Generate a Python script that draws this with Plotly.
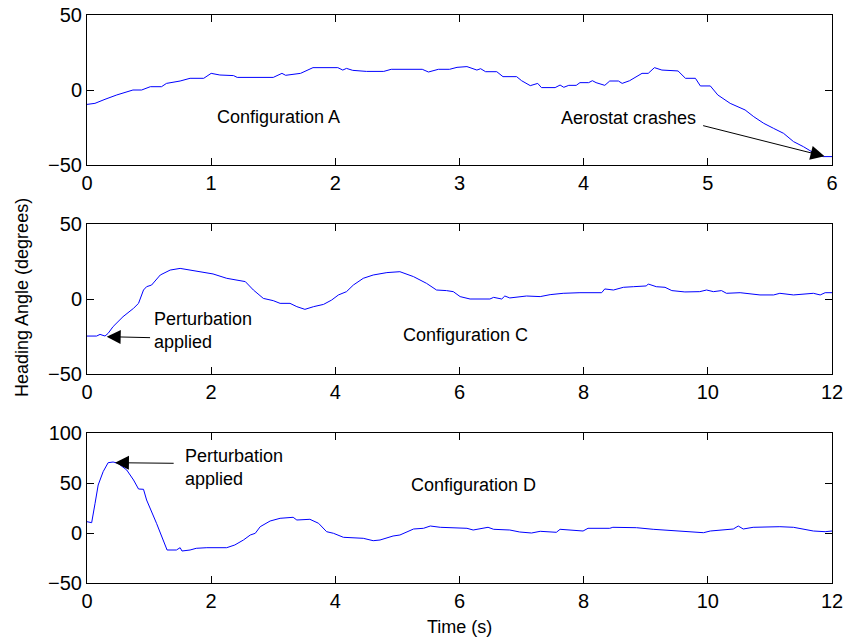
import plotly.graph_objects as go

# ---------------- data ----------------
tA = [0, 0.064, 0.145, 0.24, 0.37, 0.44, 0.51, 0.6, 0.64, 0.75, 0.83, 0.94, 1.0, 1.07, 1.18, 1.21,
      1.5, 1.57, 1.6, 1.72, 1.82, 2.02, 2.06, 2.09, 2.14, 2.25, 2.39, 2.45, 2.7, 2.75, 2.83, 2.92,
      2.98, 3.06, 3.14, 3.17, 3.21, 3.3, 3.35, 3.46, 3.5, 3.57, 3.63, 3.66, 3.77, 3.81, 3.84, 3.88,
      3.94, 3.97, 4.04, 4.07, 4.1, 4.17, 4.21, 4.28, 4.31, 4.37, 4.47, 4.52, 4.57, 4.63, 4.76, 4.82,
      4.9, 4.94, 5.02, 5.08, 5.18, 5.26, 5.3, 5.37, 5.45, 5.53, 5.61, 5.69, 5.77, 5.85, 5.93, 6.0]
yA = [-9.6, -8.9, -6.2, -3.3, 0, 0, 2.2, 2.2, 4.4, 6, 7.8, 7.8, 11.1, 10, 9.6, 8.4,
      8.4, 11.1, 9.8, 11.1, 14.9, 14.9, 13.3, 14.4, 13.1, 12.4, 12.4, 13.8, 13.8, 12, 13.8, 13.8,
      15.1, 15.6, 13.3, 14.2, 12.2, 12.2, 8.9, 8.9, 6.2, 2.9, 4.4, 1.6, 1.6, 3.3, 1.8, 3.1,
      3.1, 4.9, 4.9, 6.2, 4.9, 3.1, 6, 6, 4.4, 6.2, 11.1, 11.1, 14.9, 13.3, 12.7, 7.8,
      7.8, 2.7, 2.7, -3.3, -8.9, -12.2, -13.3, -17.8, -22.2, -25.6, -28.9, -34.4, -37.8, -41.8, -44.4, -44.4]

tC = [0, 0.155, 0.21, 0.29, 0.34, 0.42, 0.58, 0.75, 0.83, 0.91, 0.96, 1.04, 1.18, 1.34, 1.5, 1.66,
      1.87, 2.03, 2.25, 2.46, 2.55, 2.68, 2.84, 3.0, 3.11, 3.27, 3.38, 3.51, 3.65, 3.81, 3.94, 4.05,
      4.18, 4.29, 4.45, 4.61, 4.83, 5.04, 5.26, 5.47, 5.63, 5.79, 5.9, 6.01, 6.17, 6.49, 6.55, 6.68,
      6.73, 6.81, 7.08, 7.3, 7.46, 7.67, 7.94, 8.29, 8.34, 8.48, 8.64, 8.8, 9.01, 9.04, 9.17, 9.31,
      9.42, 9.63, 9.87, 9.98, 10.09, 10.22, 10.3, 10.52, 10.79, 10.84, 11.06, 11.16, 11.38, 11.54,
      11.7, 11.81, 11.89, 12]
yC = [-24.7, -24.7, -23.6, -24.7, -22.9, -18.4, -11.8, -6.2, -2.9, 6, 8.2, 9.3, 16, 19.3, 20.4, 19.3,
      18.2, 16.7, 13.8, 12, 11.6, 6, 0.4, -1.1, -2.9, -2.9, -5.1, -6.9, -5.1, -3.6, -0.7, 2.7,
      4.9, 9.3, 13.8, 16, 17.6, 18.2, 14.9, 10.4, 6, 5.6, 4.9, 1.6, 0, 0, 1.1, 0,
      2, 0.7, 2, 1.6, 2.9, 3.8, 4.2, 4.2, 6.7, 6, 7.8, 8.2, 8.7, 10, 8.2, 7.8,
      5.6, 4.7, 4.9, 6, 4.9, 5.6, 3.8, 4.2, 3.3, 2.7, 2.7, 3.8, 2.7, 3.3,
      3.8, 2.7, 4.2, 4.2]

tD = [0, 0.075, 0.13, 0.18, 0.26, 0.34, 0.42, 0.5, 0.64, 0.75, 0.83, 0.91, 0.96, 1.12, 1.29, 1.44,
      1.5, 1.53, 1.66, 1.76, 1.93, 2.25, 2.38, 2.52, 2.63, 2.71, 2.79, 2.95, 3.11, 3.32, 3.38, 3.59,
      3.73, 3.86, 3.97, 4.13, 4.45, 4.61, 4.72, 4.93, 5.04, 5.26, 5.42, 5.53, 5.69, 5.96, 6.12, 6.22,
      6.46, 6.55, 6.81, 6.97, 7.16, 7.3, 7.56, 7.62, 7.83, 7.99, 8.07, 8.42, 8.47, 8.85, 9.12, 9.44,
      9.71, 9.93, 10.04, 10.25, 10.41, 10.49, 10.57, 10.73, 10.95, 11.16, 11.38, 11.48, 11.7, 11.89, 12]
yD = [11.3, 10.3, 29.7, 48, 61.3, 70.3, 71, 69.7, 63, 53, 44, 43.7, 33, 9.7, -17, -17,
      -14.7, -18, -17, -15.3, -14.7, -14.7, -12, -7, -2, -0.3, 6.3, 12, 14.7, 15.7, 13, 13.7,
      9.7, 1.3, -0.3, -4.3, -5.3, -7.7, -7, -3, -2, 4, 4.7, 7, 5.7, 4.7, 4.7, 3,
      5.7, 3.7, 3, 1, 0, 1.7, 0.7, 3.7, 3, 2, 4.7, 4.7, 5.7, 5.3, 3.7, 2.3,
      1.3, 0.3, 2, 3, 4, 7, 4, 5.7, 6.3, 6.3, 5.7, 4.7, 2, 1.3, 2]

xticksA = [0, 1, 2, 3, 4, 5, 6]
xticksCD = [0, 2, 4, 6, 8, 10, 12]
yticksAC = [-50, 0, 50]
yticksD = [-50, 0, 50, 100]

# ---------------- figure ----------------
FONT = "Liberation Sans, Arial, Helvetica, sans-serif"
W, H = 845, 641
fig = go.Figure()
line = dict(color="rgb(0,0,255)", width=1)
fig.add_trace(go.Scatter(x=tA, y=yA, mode="lines", line=line, xaxis="x", yaxis="y", showlegend=False))
fig.add_trace(go.Scatter(x=tC, y=yC, mode="lines", line=line, xaxis="x2", yaxis="y2", showlegend=False))
fig.add_trace(go.Scatter(x=tD, y=yD, mode="lines", line=line, xaxis="x3", yaxis="y3", showlegend=False))

xdom = [87 / W, 832 / W]
def ydom(top, bot):
    return [1 - bot / H, 1 - top / H]

axcommon = dict(showline=True, linecolor="black", linewidth=1, mirror="allticks",
                ticks="inside", ticklen=7, tickcolor="black", tickwidth=1,
                showgrid=False, zeroline=False, automargin=False,
                tickfont=dict(family=FONT, size=20, color="black"))

fig.update_layout(
    template="none",
    width=W, height=H,
    margin=dict(l=0, r=0, t=0, b=0, pad=0),
    paper_bgcolor="white", plot_bgcolor="white",
    font=dict(family=FONT, color="black"),
    xaxis=dict(domain=xdom, anchor="y", range=[0, 6], tickvals=xticksA, **axcommon),
    yaxis=dict(domain=ydom(15, 165), anchor="x", range=[-50, 50], tickvals=yticksAC, **axcommon),
    xaxis2=dict(domain=xdom, anchor="y2", range=[0, 12], tickvals=xticksCD, **axcommon),
    yaxis2=dict(domain=ydom(224, 374), anchor="x2", range=[-50, 50], tickvals=yticksAC, **axcommon),
    xaxis3=dict(domain=xdom, anchor="y3", range=[0, 12], tickvals=xticksCD, **axcommon),
    yaxis3=dict(domain=ydom(433, 583), anchor="x3", range=[-50, 100], tickvals=yticksD, **axcommon),
)

tf = dict(family=FONT, size=18, color="black")
ann = []
# text labels
ann.append(dict(x=1.54, y=-17.8, xref="x", yref="y", text="Configuration A", showarrow=False, font=tf))
ann.append(dict(x=4.36, y=-18.5, xref="x", yref="y", text="Aerostat crashes", showarrow=False, font=tf))
ann.append(dict(x=6.1, y=-24, xref="x2", yref="y2", text="Configuration C", showarrow=False, font=tf))
ann.append(dict(x=1.04, y=-21.3, xref="x2", yref="y2", text="Perturbation<br>applied", showarrow=False,
                xanchor="left", align="left", font=tf))
ann.append(dict(x=6.23, y=48, xref="x3", yref="y3", text="Configuration D", showarrow=False, font=tf))
ann.append(dict(x=1.55, y=65.5, xref="x3", yref="y3", text="Perturbation<br>applied", showarrow=False,
                xanchor="left", align="left", font=tf))
# arrows (tail -> head)
arrow = dict(text="", showarrow=True, arrowhead=2, arrowsize=2.8, arrowwidth=1,
             arrowcolor="black", standoff=0, startstandoff=0)
ann.append(dict(x=5.94, y=-44.2, xref="x", yref="y", ax=4.95, ay=-23.5, axref="x", ayref="y", **arrow))
ann.append(dict(x=0.317, y=-25.1, xref="x2", yref="y2", ax=1.04, ay=-25.8, axref="x2", ayref="y2", **arrow))
ann.append(dict(x=0.45, y=70.3, xref="x3", yref="y3", ax=1.42, ay=69.7, axref="x3", ayref="y3", **arrow))
# axis titles
ann.append(dict(x=22 / W, y=1 - 298 / H, xref="paper", yref="paper", text="Heading Angle (degrees)",
                textangle=-90, showarrow=False, font=tf, xanchor="center", yanchor="middle"))
ann.append(dict(x=459.5 / W, y=1 - 627 / H, xref="paper", yref="paper", text="Time (s)",
                showarrow=False, font=tf, xanchor="center", yanchor="middle"))
fig.update_layout(annotations=ann)

fig.write_html("out.html")
